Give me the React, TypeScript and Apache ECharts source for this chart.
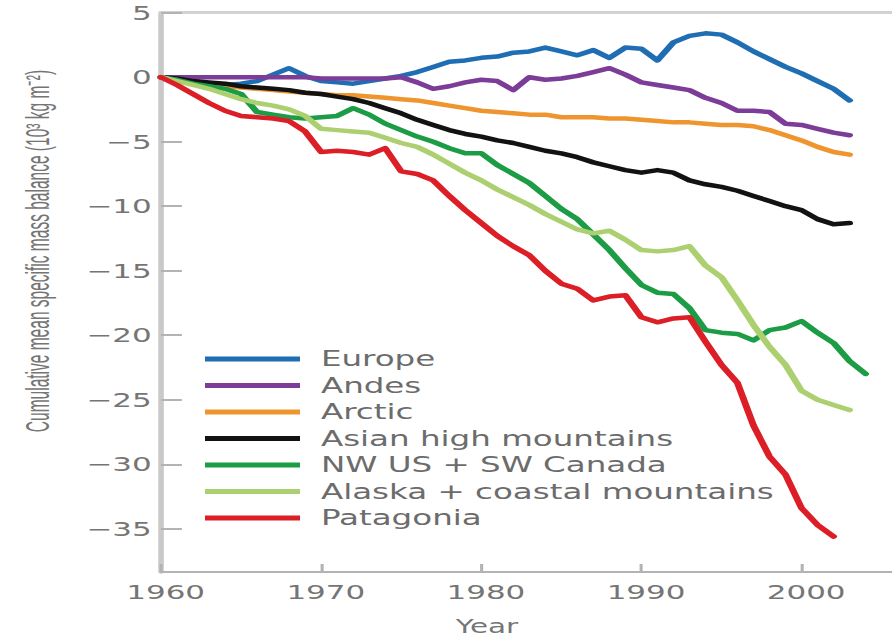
import React, { useEffect, useRef } from 'react';
import * as echarts from 'echarts';

// Year of each annual value (cumulative balance at that year)
const YEARS = [
  1960, 1961, 1962, 1963, 1964, 1965, 1966, 1967, 1968, 1969,
  1970, 1971, 1972, 1973, 1974, 1975, 1976, 1977, 1978, 1979,
  1980, 1981, 1982, 1983, 1984, 1985, 1986, 1987, 1988, 1989,
  1990, 1991, 1992, 1993, 1994, 1995, 1996, 1997, 1998, 1999,
  2000, 2001, 2002, 2003, 2004,
];

// Cumulative mean specific mass balance, 10^3 kg m^-2
const EUROPE = [
  0, -0.1, -0.3, -0.5, -0.6, -0.5, -0.3, 0.2, 0.7, 0.1,
  -0.3, -0.4, -0.5, -0.3, -0.1, 0.1, 0.4, 0.8, 1.2, 1.3,
  1.5, 1.6, 1.9, 2.0, 2.3, 2.0, 1.7, 2.1, 1.5, 2.3,
  2.2, 1.3, 2.7, 3.2, 3.4, 3.3, 2.7, 2.0, 1.4, 0.8,
  0.3, -0.3, -0.9, -1.8,
];
const ANDES = [
  0, 0, 0, 0, 0, 0, 0, 0, 0, 0,
  -0.1, -0.1, -0.1, -0.1, -0.1, 0, -0.4, -0.9, -0.7, -0.4,
  -0.2, -0.3, -1.0, 0.0, -0.2, -0.1, 0.1, 0.4, 0.7, 0.2,
  -0.4, -0.6, -0.8, -1.0, -1.6, -2.0, -2.6, -2.6, -2.7, -3.6,
  -3.7, -4.0, -4.3, -4.5,
];
const ARCTIC = [
  0, -0.2, -0.4, -0.5, -0.7, -0.8, -0.9, -1.0, -1.1, -1.2,
  -1.3, -1.4, -1.4, -1.5, -1.6, -1.7, -1.8, -2.0, -2.2, -2.4,
  -2.6, -2.7, -2.8, -2.9, -2.9, -3.1, -3.1, -3.1, -3.2, -3.2,
  -3.3, -3.4, -3.5, -3.5, -3.6, -3.7, -3.7, -3.8, -4.1, -4.5,
  -4.9, -5.4, -5.8, -6.0,
];
const ASIAN_HIGH = [
  0, -0.1, -0.3, -0.4, -0.5, -0.7, -0.8, -0.9, -1.0, -1.2,
  -1.3, -1.5, -1.7, -2.0, -2.4, -2.8, -3.3, -3.7, -4.1, -4.4,
  -4.6, -4.9, -5.1, -5.4, -5.7, -5.9, -6.2, -6.6, -6.9, -7.2,
  -7.4, -7.2, -7.4, -8.0, -8.3, -8.5, -8.8, -9.2, -9.6, -10.0,
  -10.3, -11.0, -11.4, -11.3,
];
const NW_US_SW_CANADA = [
  0, -0.2, -0.5, -0.7, -0.9, -1.3, -2.7, -2.9, -3.1, -3.2,
  -3.1, -3.0, -2.4, -2.9, -3.6, -4.1, -4.6, -5.0, -5.5, -5.9,
  -5.9, -6.8, -7.5, -8.2, -9.2, -10.2, -11.0, -12.2, -13.4, -14.8,
  -16.1, -16.7, -16.8, -17.9, -19.6, -19.8, -19.9, -20.4, -19.6, -19.4,
  -18.9, -19.8, -20.6, -22.0, -23.0,
];
const ALASKA = [
  0, -0.3, -0.6, -0.9, -1.3, -1.7, -2.0, -2.2, -2.5, -3.0,
  -4.0, -4.1, -4.2, -4.3, -4.7, -5.1, -5.4, -6.0, -6.7, -7.4,
  -8.0, -8.7, -9.3, -9.9, -10.6, -11.2, -11.8, -12.1, -11.9, -12.6,
  -13.4, -13.5, -13.4, -13.1, -14.6, -15.5, -17.3, -19.2, -20.9, -22.3,
  -24.3, -25.0, -25.4, -25.8,
];
const PATAGONIA = [
  0, -0.6, -1.3, -2.0, -2.6, -3.0, -3.1, -3.2, -3.4, -4.2,
  -5.8, -5.7, -5.8, -6.0, -5.5, -7.3, -7.5, -8.0, -9.2, -10.3,
  -11.3, -12.3, -13.1, -13.8, -15.0, -16.0, -16.4, -17.3, -17.0, -16.9,
  -18.6, -19.0, -18.7, -18.6, -20.5, -22.3, -23.7, -27.0, -29.4, -30.8,
  -33.4, -34.7, -35.6,
];

const REGIONS = [
  { name: 'Europe', values: EUROPE, color: '#1f6db3' },
  { name: 'Andes', values: ANDES, color: '#7c3c97' },
  { name: 'Arctic', values: ARCTIC, color: '#ef952f' },
  { name: 'Asian high mountains', values: ASIAN_HIGH, color: '#121212' },
  { name: 'NW US + SW Canada', values: NW_US_SW_CANADA, color: '#1c9c45' },
  { name: 'Alaska + coastal mountains', values: ALASKA, color: '#acd070' },
  { name: 'Patagonia', values: PATAGONIA, color: '#dc1e26' },
];

const Y_TICKS = [5, 0, -5, -10, -15, -20, -25, -30, -35];

const Y_TITLE = 'Cumulative mean specific mass balance (10³ kg m⁻²)';
const X_TITLE = 'Year';

// The figure is laid out in a narrower frame and widened horizontally,
// giving the broad lettering of the printed figure.
const PAGE_W = 892;
const PAGE_H = 636;
const FRAME_W = 576;
const STRETCH = PAGE_W / FRAME_W;

const TICK_FONT = '"DejaVu Sans", Verdana, sans-serif';
const TITLE_FONT = '"Liberation Sans", Arial, sans-serif';
const TITLE_SIZE = 21;
const TITLE_LENGTH = 362;
const GREY_TEXT = '#757575';

// Condense the axis title along its reading direction to a fixed length.
function titleScale(): number {
  const ctx = document.createElement('canvas').getContext('2d');
  if (!ctx) return 0.85;
  ctx.font = `${TITLE_SIZE}px ${TITLE_FONT}`;
  const w = ctx.measureText(Y_TITLE).width;
  if (!w) return 0.85;
  return TITLE_LENGTH / w;
}

function fmtTick(v: number): string {
  return v < 0 ? '\u2212' + Math.abs(v) : String(v);
}

export default function App() {
  const ref = useRef<HTMLDivElement>(null);

  useEffect(() => {
    if (!ref.current) return;
    const chart = echarts.init(ref.current, undefined, { renderer: 'svg' });
    const u = (px: number) => px / STRETCH;

    const series = REGIONS.map((r) => ({
      name: r.name,
      type: 'line',
      data: r.values.map((v, i) => [YEARS[i], v]),
      showSymbol: false,
      symbol: 'none',
      smooth: false,
      color: r.color,
      lineStyle: { color: r.color, width: 4.5, cap: 'round', join: 'round' },
      emphasis: { disabled: true },
      z: 3,
    }));

    chart.setOption({
      animation: false,
      backgroundColor: '#ffffff',
      grid: { left: u(161), right: 0, top: 12.7, bottom: 64, containLabel: false },
      xAxis: [
        {
          type: 'value',
          min: 1960,
          max: 2005.65,
          interval: 10,
          axisLine: { show: true, onZero: false, lineStyle: { color: '#b3b3b3', width: 2 } },
          axisTick: { show: true, inside: true, length: 8, lineStyle: { color: '#b3b3b3', width: 2 } },
          splitLine: { show: false },
          axisLabel: {
            margin: 10,
            showMaxLabel: false,
            color: GREY_TEXT,
            fontFamily: TICK_FONT,
            fontSize: 20,
            padding: [0, 0, 0, 6],
            formatter: (v: number) => String(v),
          },
        },
        {
          type: 'value',
          position: 'top',
          min: 1960,
          max: 2005.65,
          axisLine: { show: true, onZero: false, lineStyle: { color: '#d2d2d2', width: 3 } },
          axisTick: { show: false },
          axisLabel: { show: false },
          splitLine: { show: false },
        },
      ],
      yAxis: {
        type: 'value',
        min: -38.35,
        max: 5,
        axisLine: { show: true, onZero: false, lineStyle: { color: '#c9c9c9', width: 3.6 } },
        axisTick: {
          show: true,
          inside: true,
          length: 13.5,
          customValues: Y_TICKS,
          lineStyle: { color: '#b3b3b3', width: 2 },
        },
        splitLine: { show: false },
        axisLabel: {
          margin: 6,
          customValues: Y_TICKS,
          color: GREY_TEXT,
          fontFamily: TICK_FONT,
          fontSize: 20,
          formatter: fmtTick,
        },
      },
      legend: {
        orient: 'vertical',
        left: u(205) - 5,
        top: 343,
        icon: 'rect',
        itemWidth: u(95),
        itemHeight: 5,
        itemGap: 4.5,
        selectedMode: false,
        data: REGIONS.map((r) => r.name),
        textStyle: {
          color: '#6c6c6c',
          fontFamily: TICK_FONT,
          fontSize: 21,
          lineHeight: 22,
          padding: [0, 0, 0, 8.5],
        },
      },
      graphic: [
        {
          type: 'text',
          x: u(38),
          y: 251,
          rotation: Math.PI / 2,
          scaleX: titleScale(),
          silent: true,
          style: {
            text: Y_TITLE,
            fill: GREY_TEXT,
            fontFamily: TITLE_FONT,
            fontSize: TITLE_SIZE,
            align: 'center',
            verticalAlign: 'middle',
          },
        },
        {
          type: 'text',
          x: u(487),
          y: 626,
          silent: true,
          style: {
            text: X_TITLE,
            fill: GREY_TEXT,
            fontFamily: TICK_FONT,
            fontSize: 19,
            align: 'center',
            verticalAlign: 'middle',
          },
        },
      ],
      series,
    });

    return () => chart.dispose();
  }, []);

  return (
    <div
      style={{
        position: 'absolute',
        left: 0,
        top: 0,
        width: PAGE_W,
        height: PAGE_H,
        overflow: 'hidden',
        background: '#ffffff',
      }}
    >
      <div
        ref={ref}
        style={{
          width: FRAME_W,
          height: PAGE_H,
          transform: `scaleX(${STRETCH})`,
          transformOrigin: '0 0',
        }}
      />
    </div>
  );
}
